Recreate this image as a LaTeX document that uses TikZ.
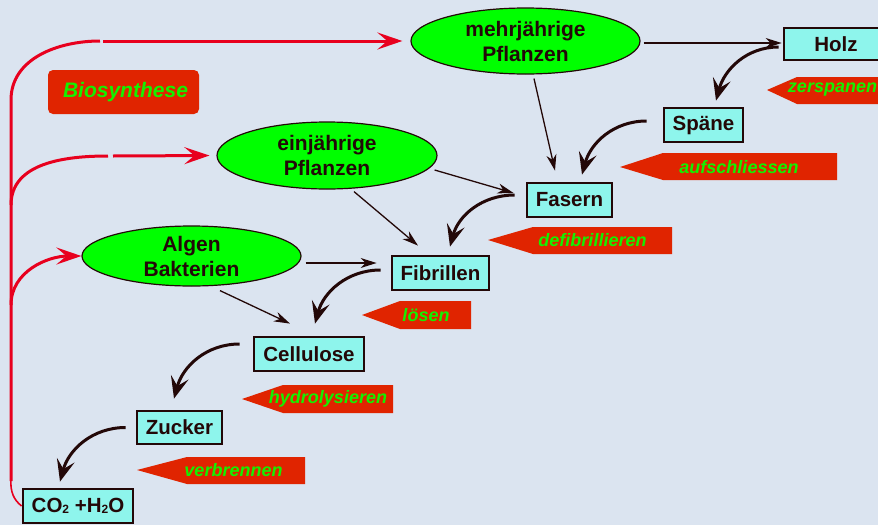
\documentclass[tikz,border=0pt]{standalone}
\usepackage{fontspec}
\setmainfont{Liberation Sans}
\usetikzlibrary{arrows.meta,shapes.geometric}
\definecolor{bg}{RGB}{219,228,240}
\definecolor{ellgreen}{RGB}{0,255,0}
\definecolor{boxcyan}{RGB}{142,245,236}
\definecolor{labred}{RGB}{224,36,0}
\definecolor{labtext}{RGB}{20,240,0}
\definecolor{cycred}{RGB}{232,0,30}
\definecolor{darkln}{RGB}{35,8,8}
\tikzset{
 plant/.style={ellipse, draw=darkln, line width=1.2pt, fill=ellgreen, inner sep=0pt, align=center, font=\fontsize{21}{25}\selectfont\bfseries, text=darkln},
 stage/.style={rectangle, draw=darkln, line width=2.8pt, fill=boxcyan, inner sep=0pt, font=\fontsize{20.5}{24}\selectfont\bfseries, text=darkln},
 proc/.style={font=\fontsize{18}{22}\selectfont\bfseries\itshape, text=labtext, inner sep=0pt},
 feed/.style={draw=darkln, line width=1.3pt, -{Stealth[length=16pt,width=10pt,inset=5pt]}},
 conv/.style={draw=darkln, line width=3pt, -{Stealth[length=22pt,width=18pt,inset=9pt]}},
 cyc/.style={draw=cycred, line width=3pt},
 cycarrow/.style={cyc, -{Stealth[length=25pt,width=17pt,inset=10pt]}},
}
\begin{document}
\begin{tikzpicture}[x=1pt,y=-1pt]
\fill[bg] (0,0) rectangle (878,525);
\useasboundingbox (0,0) rectangle (878,525);

% plants
\node[plant, minimum width=229pt, minimum height=66pt] (mehr) at (525.5,41) {mehrjährige\\Pflanzen};
\node[plant, minimum width=220pt, minimum height=67pt] (ein) at (327,155.5) {einjährige\\Pflanzen};
\node[plant, minimum width=219pt, minimum height=60pt] (algen) at (191.5,256) {Algen\\Bakterien};

% stages
\node[stage, minimum width=104pt, minimum height=32pt] (holz) at (836,44) {Holz};
\node[stage, minimum width=79pt, minimum height=34pt] (spaene) at (703.5,125) {Späne};
\node[stage, minimum width=85pt, minimum height=34pt] (fasern) at (569.5,200) {Fasern};
\node[stage, minimum width=97pt, minimum height=34pt] (fibrillen) at (440.5,273) {Fibrillen};
\node[stage, minimum width=110pt, minimum height=34pt] (cellulose) at (309,354) {Cellulose};
\node[stage, minimum width=85pt, minimum height=33pt] (zucker) at (179.5,427.5) {Zucker};
\node[stage, minimum width=110pt, minimum height=34pt] (co2) at (78,506) {CO\raisebox{-1pt}{\fontsize{12}{12}\selectfont 2} +H\raisebox{-1pt}{\fontsize{12}{12}\selectfont 2}O};

% Biosynthese label
\fill[labred, rounded corners=5pt] (48,70) rectangle (199,114);
\node[font=\fontsize{21}{24}\selectfont\bfseries\itshape, text=labtext, inner sep=0pt] (bio) at (125.5,92) {Biosynthese};

% process labels
\fill[labred] (767,90) -- (797,77) -- (900,77) -- (900,104) -- (797,104) -- cycle;
\node[proc] (zer) at (832.5,90) {zerspanen};
\fill[labred] (620,167) -- (663,153) -- (837,153) -- (837,180) -- (663,180) -- cycle;
\node[proc] (auf) at (739,167) {aufschliessen};
\fill[labred] (488,240) -- (533,227) -- (672,227) -- (672,254) -- (533,254) -- cycle;
\node[proc] (defi) at (592.5,240) {defibrillieren};
\fill[labred] (362,315) -- (400,301) -- (471,301) -- (471,329) -- (400,329) -- cycle;
\node[proc] (loes) at (426,315) {lösen};
\fill[labred] (242,399) -- (283,385) -- (393,385) -- (393,413) -- (283,413) -- cycle;
\node[proc] (hydro) at (328,399) {hydrolysieren};
\fill[labred] (137,470) -- (187,457) -- (305,457) -- (305,484) -- (187,484) -- cycle;
\node[proc] (verb) at (233.5,470) {verbrennen};

% cycle lines
\coordinate (g1) at (103,41);
\coordinate (g2) at (113,156);
\draw[cycred, line width=1.6pt] (co2.west) .. controls (14,500) and (10,492) .. (11,479);
\draw[cyc] (11,481) -- (11,100) to[out=90,in=180] (100,41);
\draw[cycarrow, shorten >=8pt] (g1) -- (mehr.west);
\draw[cyc] (11,205) to[out=90,in=180] (108,156);
\draw[cycarrow, shorten >=7pt] (g2) -- (ein.west);
\draw[cycarrow] (11,305) to[out=90,in=180] (algen.west);

% feed arrows
\draw[feed] ([xshift=3pt,yshift=-2pt]mehr.east) -- ([xshift=-1pt,yshift=1pt]holz.west);
\draw[feed] ([xshift=8.5pt,yshift=-4pt]mehr.south) -- ([xshift=-14.5pt,yshift=11pt]fasern.north);
\draw[feed] ([xshift=-3pt,yshift=-14.5pt]ein.east) -- ([xshift=-12pt,yshift=7pt]fasern.west);
\draw[feed] ([xshift=27pt,yshift=-2pt]ein.south) -- ([xshift=-22.5pt,yshift=9pt]fibrillen.north);
\draw[feed] ([xshift=4pt,yshift=-7pt]algen.east) -- ([xshift=-14pt,yshift=10pt]fibrillen.west);
\draw[feed] ([xshift=28.5pt,yshift=-4pt]algen.south) -- ([xshift=-19pt,yshift=12pt]cellulose.north);

% conversion arrows
\draw[conv] ([xshift=-4pt,yshift=-3pt]holz.west) to[out=180,in=75] ([xshift=12.5pt,yshift=6pt]spaene.north);
\draw[conv] ([xshift=-16pt,yshift=4pt]spaene.west) to[out=180,in=75] ([xshift=12.5pt,yshift=7pt]fasern.north);
\draw[conv] ([xshift=-11pt,yshift=5pt]fasern.west) to[out=180,in=75] ([xshift=9.5pt,yshift=8pt]fibrillen.north);
\draw[conv] ([xshift=-10pt,yshift=3pt]fibrillen.west) to[out=180,in=75] ([xshift=6pt,yshift=12pt]cellulose.north);
\draw[conv] ([xshift=-13pt,yshift=10pt]cellulose.west) to[out=180,in=75] ([xshift=-5.5pt,yshift=11pt]zucker.north);
\draw[conv] ([xshift=-10pt]zucker.west) to[out=180,in=75] ([xshift=-18pt,yshift=6pt]co2.north);
\end{tikzpicture}
\end{document}
